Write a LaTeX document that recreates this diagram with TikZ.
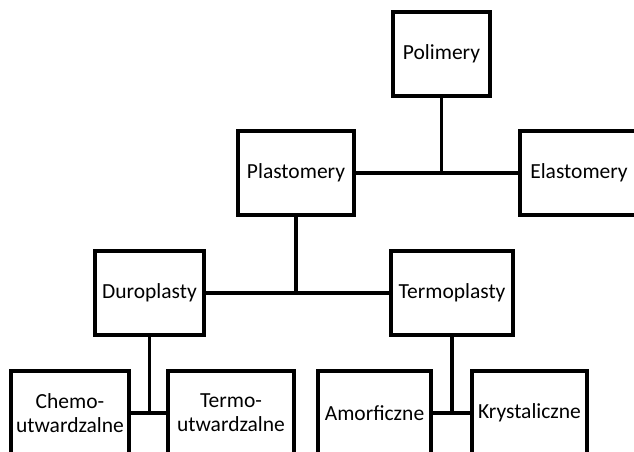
\documentclass[tikz,border=0pt]{standalone}
\usepackage{fontspec}
\setmainfont{Carlito}

\begin{document}
\begin{tikzpicture}[x=1pt,y=-1pt,
        box/.style={draw,line width=3.2pt,inner sep=0pt,minimum height=84pt,align=center,font=\fontsize{21.5}{24}\selectfont},
        link/.style={line width=3.2pt}]

            \useasboundingbox (0,0) rectangle (634,451);
            \clip (0,0) rectangle (634,451);

            \node[box,minimum width=97pt] (pol) at (441.5, 54) {Polimery};
            \node[box,minimum width=116pt] (pla) at (296, 173) {Plastomery};
            \node[box,minimum width=118pt] (ela) at (579, 173) {Elastomery};

            \node[box,minimum width=109pt] (dur) at (149.5, 293) {Duroplasty};
            \node[box,minimum width=122pt] (ter) at (452, 293) {Termoplasty};

            \node[box,minimum width=118pt] (che) at (70, 413) {Chemo-\\utwardzalne};
            \node[box,minimum width=126pt] (tut) at (231, 413) {Termo-\\utwardzalne};
            \node[box,minimum width=113pt] (amo) at (374.5, 413) {Amorficzne};
            \node[box,minimum width=115pt] (kry) at (529.5, 413) {Krystaliczne};

            \draw[link] (pla) -- (ela);
            \draw[link] (pol) -- (pol |- pla.east);
            \draw[link] (dur) -- (ter);
            \draw[link] (pla) -- (pla |- dur.east);
            \draw[link] (che) -- (tut);
            \draw[link] (dur) -- (dur |- che.east);
            \draw[link] (amo) -- (kry);
            \draw[link] (ter) -- (ter |- amo.east);
        \end{tikzpicture}
\end{document}
